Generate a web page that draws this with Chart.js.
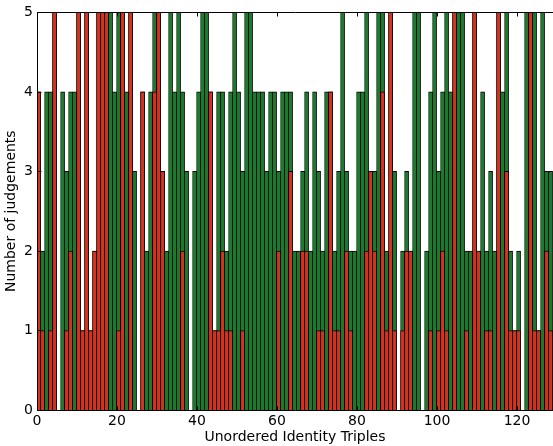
<!DOCTYPE html>
<html>
<head>
<meta charset="utf-8">
<script src="https://cdn.jsdelivr.net/npm/chart.js@4.4.0/dist/chart.umd.min.js"></script>
<style>
  html, body { margin: 0; padding: 0; background: #fff; }
  #wrap { width: 553px; height: 446px; }
</style>
</head>
<body>
<div id="wrap"><canvas id="chart"></canvas></div>
<script>
// Judgements per unordered identity triple (index 0..128)
// allCounts = full bar height (green), redCounts = red part drawn over it
const allCounts = [
  4, 2, 4, 4, 5, 0, 4, 3, 4, 4,
  5, 1, 5, 1, 2, 5, 5, 5, 5, 4,
  5, 5, 4, 5, 3, 0, 4, 2, 4, 5,
  5, 3, 2, 5, 4, 5, 4, 3, 0, 3,
  4, 5, 5, 4, 1, 4, 4, 2, 4, 5,
  4, 3, 5, 5, 4, 4, 4, 3, 4, 4,
  3, 4, 4, 4, 2, 2, 3, 4, 2, 4,
  3, 2, 4, 4, 2, 3, 5, 3, 2, 2,
  4, 4, 5, 3, 3, 5, 5, 2, 5, 3,
  0, 2, 3, 2, 5, 5, 0, 2, 4, 5,
  3, 4, 5, 4, 5, 5, 5, 2, 2, 5,
  2, 4, 2, 3, 2, 5, 4, 5, 2, 1,
  2, 0, 5, 5, 5, 1, 5, 3, 3
];
const redCounts = [
  4, 1, 0, 1, 5, 0, 0, 1, 2, 0,
  5, 1, 5, 1, 2, 5, 5, 5, 0, 0,
  1, 5, 0, 5, 0, 0, 4, 0, 0, 4,
  5, 3, 0, 0, 0, 0, 2, 0, 0, 0,
  0, 0, 0, 4, 1, 1, 2, 1, 1, 0,
  0, 1, 0, 0, 0, 0, 0, 0, 0, 0,
  2, 0, 0, 3, 0, 0, 2, 2, 0, 0,
  1, 1, 0, 4, 1, 1, 0, 2, 1, 0,
  0, 0, 2, 3, 2, 0, 4, 1, 5, 1,
  0, 1, 2, 2, 0, 0, 0, 0, 1, 0,
  1, 2, 1, 0, 5, 0, 0, 1, 0, 5,
  2, 0, 1, 1, 0, 5, 0, 3, 1, 1,
  1, 0, 0, 5, 1, 1, 0, 2, 1
];
const xTicks = [0, 20, 40, 60, 80, 100, 120];
const yTicks = [0, 1, 2, 3, 4, 5];

const GREEN = '#1c7a2e';
const RED = '#d8321e';

// bars start at the index, like old matplotlib bar()
const toPoints = (arr) => arr.map((v, i) => ({ x: i + 0.4, y: v > 0 ? v : null }));

// frame with inward ticks (matplotlib classic look)
const framePlugin = {
    id: 'frame',
    afterDatasetsDraw(chart) {
        const { ctx, chartArea: a, scales: { x, y } } = chart;
        const L = Math.round(a.left) + 0.5;
        const T = Math.round(a.top) + 0.5;
        const B = Math.round(a.bottom) + 0.5;
        const R = a.right;
        ctx.save();
        ctx.strokeStyle = '#000';
        ctx.lineWidth = 1;
        ctx.beginPath();
        ctx.moveTo(R, T); ctx.lineTo(L, T); ctx.lineTo(L, B); ctx.lineTo(R, B);
        xTicks.forEach(v => {
            const px = Math.round(x.getPixelForValue(v)) + 0.5;
            ctx.moveTo(px, B); ctx.lineTo(px, B - 4);
            ctx.moveTo(px, T); ctx.lineTo(px, T + 4);
        });
        yTicks.forEach(v => {
            const py = Math.round(y.getPixelForValue(v)) + 0.5;
            ctx.moveTo(L, py); ctx.lineTo(L + 4, py);
        });
        ctx.stroke();
        ctx.restore();
    }
};

Chart.defaults.font.family = '"DejaVu Sans", sans-serif';
Chart.defaults.font.size = 14;
Chart.defaults.color = '#000';

const barStyle = {
    borderColor: '#000',
    borderWidth: { top: 1, left: 0.8, right: 0.8, bottom: 0 },
    borderSkipped: false,
    categoryPercentage: 1.0,
    barPercentage: 1.0,
    grouped: false
};

new Chart(document.getElementById('chart'), {
    type: 'bar',
    data: {
        datasets: [
            { label: 'red', data: toPoints(redCounts), backgroundColor: RED, order: 1, ...barStyle },
            { label: 'all', data: toPoints(allCounts), backgroundColor: GREEN, order: 2, ...barStyle }
        ]
    },
    options: {
        responsive: true,
        maintainAspectRatio: false,
        animation: false,
        devicePixelRatio: 1,
        layout: { padding: { top: 9, right: 0, bottom: 0, left: 0 } },
        plugins: { legend: { display: false }, tooltip: { enabled: false } },
        scales: {
            x: {
                type: 'linear',
                min: 0,
                max: 129,
                offset: false,
                grid: { display: false, drawTicks: false, offset: false },
                border: { display: false },
                afterBuildTicks: (s) => { s.ticks = xTicks.map(v => ({ value: v })); },
                afterFit: (s) => { s.height = 36; },
                ticks: { padding: 3, maxRotation: 0, autoSkip: false },
                title: { display: true, text: 'Unordered Identity Triples', padding: { top: 0, bottom: 0 } }
            },
            y: {
                min: 0,
                max: 5,
                grid: { display: false, drawTicks: false },
                border: { display: false },
                afterBuildTicks: (s) => { s.ticks = yTicks.map(v => ({ value: v })); },
                afterFit: (s) => { s.width = 37; },
                ticks: { padding: 4 },
                title: { display: true, text: 'Number of judgements', padding: { top: 3, bottom: 0 } }
            }
        }
    },
    plugins: [framePlugin]
});
</script>
</body>
</html>
